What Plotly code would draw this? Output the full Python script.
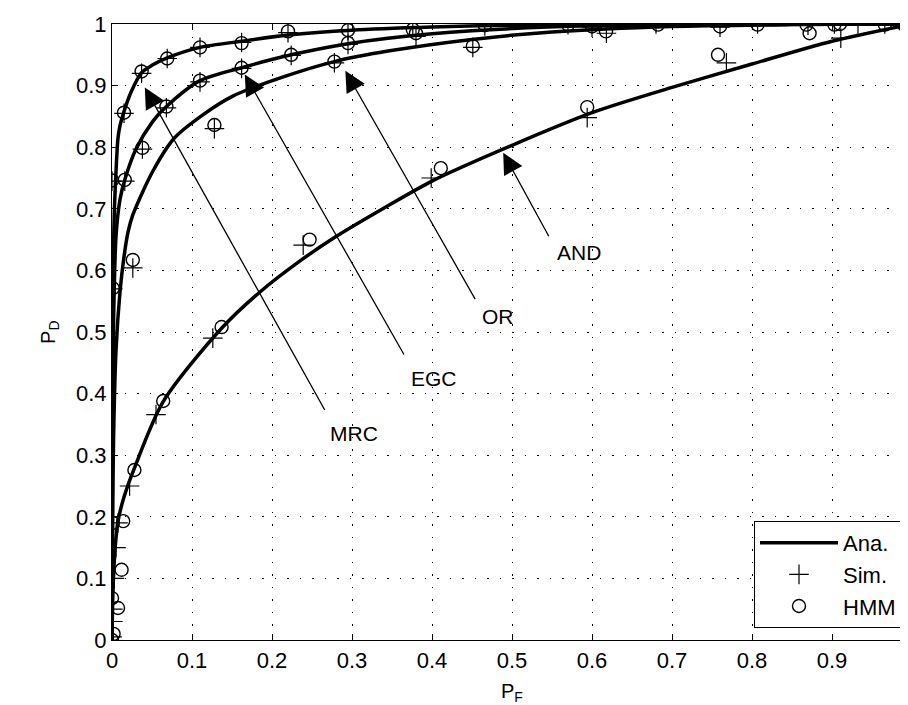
import plotly.graph_objects as go

# ---------------- data ----------------
# Analytic ROC curves (P_F, P_D)
mrc_pf = [0, 0.0005, 0.001, 0.002, 0.003, 0.005, 0.0075, 0.01, 0.015, 0.024, 0.037, 0.05, 0.069, 0.11, 0.162, 0.22, 0.3, 0.4, 0.5, 0.7, 1.0]
mrc_pd = [0, 0.35, 0.52, 0.64, 0.70, 0.76, 0.815, 0.835, 0.858, 0.89, 0.921, 0.933, 0.945, 0.962, 0.972, 0.982, 0.99, 0.995, 0.998, 0.9995, 1.0]

egc_pf = [0, 0.0005, 0.001, 0.002, 0.005, 0.01, 0.016, 0.03, 0.051, 0.068, 0.11, 0.162, 0.224, 0.295, 0.345, 0.45, 0.6, 0.8, 1.0]
egc_pd = [0, 0.28, 0.42, 0.52, 0.655, 0.715, 0.747, 0.797, 0.842, 0.866, 0.908, 0.929, 0.95, 0.968, 0.977, 0.989, 0.997, 0.999, 1.0]

or_pf = [0, 0.001, 0.002, 0.005, 0.01, 0.015, 0.02, 0.026, 0.051, 0.078, 0.114, 0.151, 0.216, 0.278, 0.345, 0.45, 0.55, 0.7, 0.85, 1.0]
or_pd = [0, 0.22, 0.33, 0.47, 0.565, 0.622, 0.662, 0.69, 0.761, 0.815, 0.853, 0.883, 0.915, 0.939, 0.956, 0.975, 0.987, 0.996, 0.999, 1.0]

and_pf = [0, 0.001, 0.0025, 0.005, 0.0075, 0.015, 0.028, 0.064, 0.137, 0.185, 0.2325, 0.28, 0.345, 0.4, 0.5, 0.6, 0.7, 0.8, 0.9, 1.0]
and_pd = [0, 0.07, 0.12, 0.166, 0.193, 0.232, 0.279, 0.387, 0.506, 0.565, 0.613, 0.655, 0.705, 0.745, 0.803, 0.856, 0.897, 0.935, 0.972, 1.0]

# Simulation points (+)
sim_pf = [0.0, 0.015, 0.037, 0.069, 0.11, 0.162, 0.22, 0.295, 0.376, 0.466, 0.57, 0.68, 0.807, 0.903, 0.99,
          0.001, 0.016, 0.038, 0.068, 0.11, 0.162, 0.224, 0.295, 0.38, 0.6, 0.9325,
          0.026, 0.128, 0.278, 0.451, 0.618, 0.76, 0.87, 0.966,
          0.0, 0.001, 0.001, 0.003, 0.005, 0.0075, 0.022, 0.055, 0.126, 0.239, 0.399, 0.594, 0.768, 0.911, 0.99]
sim_pd = [0.745, 0.855, 0.92, 0.944, 0.962, 0.97, 0.986, 0.99, 0.994, 0.997, 0.999, 1.0, 1.0, 1.0, 1.0,
          0.57, 0.745, 0.797, 0.864, 0.906, 0.928, 0.949, 0.967, 0.98, 0.995, 1.0,
          0.604, 0.83, 0.937, 0.962, 0.985, 0.995, 0.998, 1.0,
          0.005, 0.03, 0.05, 0.1, 0.15, 0.19, 0.25, 0.366, 0.49, 0.641, 0.75, 0.848, 0.937, 0.977, 0.998]

# HMM points (o)
hmm_pf = [0.0, 0.015, 0.037, 0.069, 0.11, 0.162, 0.22, 0.295, 0.376, 0.466, 0.57, 0.6825, 0.807, 0.903, 0.99,
          0.001, 0.016, 0.038, 0.068, 0.11, 0.162, 0.224, 0.295, 0.38, 0.6, 0.91,
          0.026, 0.128, 0.278, 0.451, 0.6175, 0.76, 0.868, 0.966,
          0.0, 0.002, 0.0, 0.0075, 0.012, 0.001, 0.014, 0.028, 0.064, 0.137, 0.247, 0.411, 0.594, 0.7575, 0.872, 0.99]
hmm_pd = [0.746, 0.856, 0.923, 0.944, 0.962, 0.969, 0.988, 0.99, 0.991, 0.998, 0.999, 0.999, 0.999, 0.999, 0.999,
          0.571, 0.747, 0.799, 0.866, 0.908, 0.929, 0.95, 0.969, 0.985, 0.996, 1.0,
          0.617, 0.836, 0.939, 0.964, 0.988, 0.996, 0.999, 0.999,
          0.0, 0.01, 0.068, 0.052, 0.114, 0.19, 0.193, 0.276, 0.388, 0.508, 0.65, 0.766, 0.865, 0.95, 0.985, 1.0]

# Curve labels: name, arrow tip (pf, pd), arrow tail (pf, pd), text centre (pf, pd)
label_names = ["MRC", "EGC", "OR", "AND"]
label_tip = [(0.041, 0.897), (0.166, 0.918), (0.2917, 0.924), (0.489, 0.791)]
label_tail = [(0.267, 0.371), (0.366, 0.461), (0.455, 0.551), (0.547, 0.653)]
label_text = [(0.303, 0.336), (0.403, 0.425), (0.4825, 0.525), (0.584, 0.629)]

tick_vals = [0, 0.1, 0.2, 0.3, 0.4, 0.5, 0.6, 0.7, 0.8, 0.9, 1]
tick_text = ["0", "0.1", "0.2", "0.3", "0.4", "0.5", "0.6", "0.7", "0.8", "0.9", "1"]

# ---------------- figure ----------------
FONT = "Liberation Sans, Arial, sans-serif"
fig = go.Figure()

curves = [(mrc_pf, mrc_pd), (egc_pf, egc_pd), (or_pf, or_pd), (and_pf, and_pd)]
for i, (px, py) in enumerate(curves):
    fig.add_trace(go.Scatter(
        x=px, y=py, mode="lines", name="Ana.",
        line=dict(color="black", width=3.5, shape="spline", smoothing=0.8),
        showlegend=(i == 0)))

fig.add_trace(go.Scatter(
    x=sim_pf, y=sim_pd, mode="markers", name="Sim.",
    marker=dict(symbol="cross-thin-open", size=14, color="black",
                line=dict(color="black", width=1.2))))
fig.add_trace(go.Scatter(
    x=hmm_pf, y=hmm_pd, mode="markers", name="HMM",
    marker=dict(symbol="circle-open", size=13, color="black",
                line=dict(color="black", width=1.4))))

annotations = []
for name, tip, tail, txt in zip(label_names, label_tip, label_tail, label_text):
    annotations.append(dict(
        x=tip[0], y=tip[1], ax=tail[0], ay=tail[1], xref="x", yref="y",
        axref="x", ayref="y", text="", showarrow=True,
        arrowhead=2, arrowsize=3.2, arrowwidth=1.3, arrowcolor="black"))
    annotations.append(dict(
        x=txt[0], y=txt[1], xref="x", yref="y", text=name, showarrow=False,
        font=dict(family=FONT, size=21, color="black")))

annotations.append(dict(
    x=-0.097, y=0.5, xref="paper", yref="paper", text="P<sub>D</sub>",
    textangle=-90, showarrow=False, font=dict(family=FONT, size=20, color="black")))
annotations.append(dict(
    x=0.5, y=-0.086, xref="paper", yref="paper", text="P<sub>F</sub>",
    showarrow=False, yanchor="middle", font=dict(family=FONT, size=20, color="black")))

axis_common = dict(
    range=[0, 1], tickvals=tick_vals, ticktext=tick_text,
    showgrid=True, gridcolor="black", gridwidth=1, griddash="1.5px,11px",
    showline=True, linecolor="black", linewidth=1.2, mirror="ticks",
    ticks="inside", ticklen=6, tickcolor="black", tickwidth=1,
    zeroline=False, tickfont=dict(family=FONT, size=22, color="black"),
    automargin=False, ticklabeloverflow="allow",
)

fig.update_layout(
    width=908, height=705,
    margin=dict(l=104, r=4, t=16, b=73),
    paper_bgcolor="white", plot_bgcolor="white",
    xaxis=dict(**axis_common),
    yaxis=dict(**axis_common),
    showlegend=True,
    legend=dict(x=0.9875, y=0.0195, xanchor="right", yanchor="bottom",
                bgcolor="white", bordercolor="black", borderwidth=1,
                font=dict(family=FONT, size=22, color="black"),
                itemwidth=78, tracegroupgap=0),
    annotations=annotations,
)

fig.write_html("out.html")
